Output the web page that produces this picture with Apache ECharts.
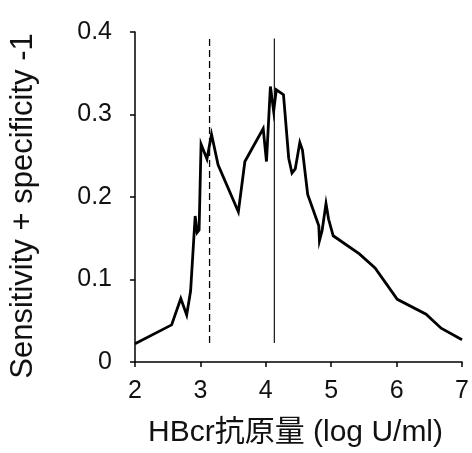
<!DOCTYPE html>
<html><head><meta charset="utf-8">
<script src="https://cdn.jsdelivr.net/npm/echarts@6/dist/echarts.min.js"></script>
<style>html,body{margin:0;padding:0;background:#fff}#c{width:472px;height:453px}</style>
</head><body><div id="c"></div>
<script>
const curveX = [2.00, 2.56, 2.70, 2.79, 2.85, 2.92, 2.95, 2.98, 3.01, 3.10, 3.17, 3.27, 3.58, 3.68, 3.96, 4.01, 4.07, 4.12, 4.16, 4.27, 4.35, 4.40, 4.45, 4.52, 4.56, 4.64, 4.81, 4.82, 4.86, 4.92, 4.96, 5.03, 5.43, 5.67, 6.01, 6.45, 6.68, 7.00];
const curveY = [0.022, 0.045, 0.077, 0.057, 0.086, 0.177, 0.157, 0.160, 0.264, 0.246, 0.276, 0.239, 0.182, 0.243, 0.283, 0.243, 0.334, 0.304, 0.330, 0.324, 0.247, 0.229, 0.234, 0.266, 0.257, 0.203, 0.165, 0.147, 0.159, 0.192, 0.173, 0.153, 0.131, 0.114, 0.076, 0.058, 0.041, 0.027];
const dashedCutX = [3.14, 3.14];
const dashedCutY = [0.023, 0.396];
const solidCutX = [4.13, 4.13];
const solidCutY = [0.023, 0.392];
const xTicks = [2, 3, 4, 5, 6, 7];
const yTicks = [0, 0.1, 0.2, 0.3, 0.4];

const zip = (a, b) => a.map((v, i) => [v, b[i]]);
const font = 'Arial, "Liberation Sans", "Noto Sans CJK JP", sans-serif';
const chart = echarts.init(document.getElementById('c'), null, {renderer: 'canvas'});
chart.setOption({
  animation: false,
  grid: {left: 134, right: 9, top: 32, bottom: 90, containLabel: false},
  xAxis: {
    type: 'value', min: xTicks[0], max: xTicks[xTicks.length - 1], interval: 1,
    name: 'HBcr抗原量 (log U/ml)', nameLocation: 'middle', nameGap: 56,
    nameTextStyle: {fontFamily: font, fontSize: 30, color: '#111', padding: [0, 6, 0, 0]},
    axisLine: {show: true, onZero: false, lineStyle: {color: '#000', width: 1.5}},
    axisTick: {show: true, inside: false, length: 5, lineStyle: {color: '#000', width: 1.5}},
    axisLabel: {fontFamily: font, fontSize: 25, color: '#111', margin: 17},
    splitLine: {show: false}
  },
  yAxis: {
    type: 'value', min: yTicks[0], max: yTicks[yTicks.length - 1], interval: 0.1,
    name: 'Sensitivity + specificity -1', nameLocation: 'middle', nameGap: 96, nameRotate: 90,
    nameTextStyle: {fontFamily: font, fontSize: 31, color: '#111', padding: [0, 18, 0, 0]},
    axisLine: {show: true, onZero: false, lineStyle: {color: '#000', width: 1.5}},
    axisTick: {show: true, inside: false, length: 5, lineStyle: {color: '#000', width: 1.5}},
    axisLabel: {fontFamily: font, fontSize: 25, color: '#111', margin: 23,
      formatter: v => (v === 0 ? '0' : v.toFixed(1))},
    splitLine: {show: false}
  },
  series: [
    {type: 'line', data: zip(curveX, curveY), showSymbol: false, symbol: 'none',
     lineStyle: {color: '#000', width: 2.8, join: 'miter'}},
    {type: 'line', data: zip(dashedCutX, dashedCutY), symbol: 'none',
     lineStyle: {color: '#000', width: 1.3, type: [7, 4]}},
    {type: 'line', data: zip(solidCutX, solidCutY), symbol: 'none',
     lineStyle: {color: '#000', width: 1.1}}
  ]
});
</script></body></html>
